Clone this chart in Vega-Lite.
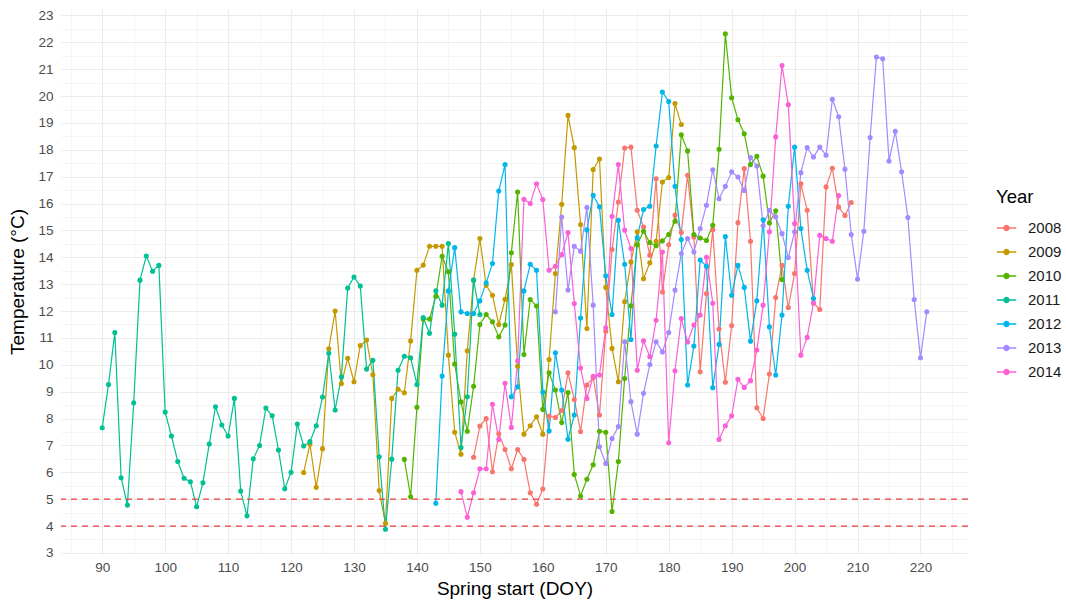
{
"$schema":"https://vega.github.io/schema/vega-lite/v6.json",
"width":907,"height":545,
"autosize":{"type":"none"},
"padding":{"left":61,"top":9,"right":98,"bottom":46},
"background":"white",
"config":{"view":{"stroke":null},"font":"Liberation Sans"},
"resolve":{"axis":{"x":"independent","y":"independent"}},
"datasets":{"temps":[
{"Year":"2008","d":149,"t":6.56},{"Year":"2008","d":150,"t":7.72},{"Year":"2008","d":151,"t":8.0},{"Year":"2008","d":152,"t":6.02},{"Year":"2008","d":153,"t":7.43},{"Year":"2008","d":154,"t":6.85},{"Year":"2008","d":155,"t":6.13},{"Year":"2008","d":156,"t":6.85},{"Year":"2008","d":157,"t":6.48},{"Year":"2008","d":158,"t":5.24},{"Year":"2008","d":159,"t":4.81},{"Year":"2008","d":160,"t":5.38},{"Year":"2008","d":161,"t":8.09},{"Year":"2008","d":162,"t":8.04},{"Year":"2008","d":163,"t":8.3},{"Year":"2008","d":164,"t":9.7},{"Year":"2008","d":165,"t":8.71},{"Year":"2008","d":166,"t":7.52},{"Year":"2008","d":167,"t":9.25},{"Year":"2008","d":168,"t":9.52},{"Year":"2008","d":169,"t":8.13},{"Year":"2008","d":170,"t":11.25},{"Year":"2008","d":171,"t":14.29},{"Year":"2008","d":172,"t":16.06},{"Year":"2008","d":173,"t":18.07},{"Year":"2008","d":174,"t":18.1},{"Year":"2008","d":175,"t":15.75},{"Year":"2008","d":176,"t":15.13},{"Year":"2008","d":177,"t":14.08},{"Year":"2008","d":178,"t":16.92},{"Year":"2008","d":179,"t":12.71},{"Year":"2008","d":180,"t":14.47},{"Year":"2008","d":181,"t":15.57},{"Year":"2008","d":182,"t":14.92},{"Year":"2008","d":183,"t":17.05},{"Year":"2008","d":184,"t":14.76},{"Year":"2008","d":185,"t":9.74},{"Year":"2008","d":186,"t":12.65},{"Year":"2008","d":187,"t":15.03},{"Year":"2008","d":188,"t":11.33},{"Year":"2008","d":189,"t":9.35},{"Year":"2008","d":190,"t":11.46},{"Year":"2008","d":191,"t":15.29},{"Year":"2008","d":192,"t":17.3},{"Year":"2008","d":193,"t":14.6},{"Year":"2008","d":194,"t":8.4},{"Year":"2008","d":195,"t":8.0},{"Year":"2008","d":196,"t":9.66},{"Year":"2008","d":197,"t":12.5},{"Year":"2008","d":198,"t":13.7},{"Year":"2008","d":199,"t":12.13},{"Year":"2008","d":200,"t":13.4},{"Year":"2008","d":201,"t":16.74},{"Year":"2008","d":202,"t":15.75},{"Year":"2008","d":203,"t":12.3},{"Year":"2008","d":204,"t":12.06},{"Year":"2008","d":205,"t":16.62},{"Year":"2008","d":206,"t":17.31},{"Year":"2008","d":207,"t":15.87},{"Year":"2008","d":208,"t":15.56},{"Year":"2008","d":209,"t":16.04},
{"Year":"2009","d":122,"t":5.99},{"Year":"2009","d":123,"t":7.05},{"Year":"2009","d":124,"t":5.44},{"Year":"2009","d":125,"t":6.88},{"Year":"2009","d":126,"t":10.6},{"Year":"2009","d":127,"t":12.0},{"Year":"2009","d":128,"t":9.3},{"Year":"2009","d":129,"t":10.24},{"Year":"2009","d":130,"t":9.37},{"Year":"2009","d":131,"t":10.72},{"Year":"2009","d":132,"t":10.92},{"Year":"2009","d":133,"t":9.63},{"Year":"2009","d":134,"t":5.32},{"Year":"2009","d":135,"t":4.1},{"Year":"2009","d":136,"t":8.75},{"Year":"2009","d":137,"t":9.09},{"Year":"2009","d":138,"t":8.96},{"Year":"2009","d":139,"t":10.89},{"Year":"2009","d":140,"t":13.52},{"Year":"2009","d":141,"t":13.71},{"Year":"2009","d":142,"t":14.41},{"Year":"2009","d":143,"t":14.41},{"Year":"2009","d":144,"t":14.41},{"Year":"2009","d":145,"t":10.36},{"Year":"2009","d":146,"t":7.49},{"Year":"2009","d":147,"t":6.67},{"Year":"2009","d":148,"t":10.52},{"Year":"2009","d":149,"t":13.15},{"Year":"2009","d":150,"t":14.7},{"Year":"2009","d":151,"t":12.96},{"Year":"2009","d":152,"t":12.59},{"Year":"2009","d":153,"t":11.5},{"Year":"2009","d":154,"t":12.44},{"Year":"2009","d":155,"t":13.73},{"Year":"2009","d":156,"t":9.95},{"Year":"2009","d":157,"t":7.42},{"Year":"2009","d":158,"t":7.73},{"Year":"2009","d":159,"t":8.07},{"Year":"2009","d":160,"t":7.42},{"Year":"2009","d":161,"t":10.2},{"Year":"2009","d":162,"t":13.4},{"Year":"2009","d":163,"t":15.97},{"Year":"2009","d":164,"t":19.28},{"Year":"2009","d":165,"t":18.08},{"Year":"2009","d":166,"t":15.22},{"Year":"2009","d":167,"t":11.35},{"Year":"2009","d":168,"t":17.27},{"Year":"2009","d":169,"t":17.66},{"Year":"2009","d":170,"t":12.88},{"Year":"2009","d":171,"t":10.61},{"Year":"2009","d":172,"t":9.37},{"Year":"2009","d":173,"t":12.35},{"Year":"2009","d":174,"t":13.83},{"Year":"2009","d":175,"t":14.95},{"Year":"2009","d":176,"t":13.2},{"Year":"2009","d":177,"t":13.8},{"Year":"2009","d":178,"t":14.6},{"Year":"2009","d":179,"t":16.8},{"Year":"2009","d":180,"t":16.97},{"Year":"2009","d":181,"t":19.72},{"Year":"2009","d":182,"t":18.94},
{"Year":"2010","d":138,"t":6.48},{"Year":"2010","d":139,"t":5.09},{"Year":"2010","d":140,"t":8.42},{"Year":"2010","d":141,"t":11.7},{"Year":"2010","d":142,"t":11.7},{"Year":"2010","d":143,"t":12.55},{"Year":"2010","d":144,"t":14.04},{"Year":"2010","d":145,"t":13.46},{"Year":"2010","d":146,"t":10.03},{"Year":"2010","d":147,"t":8.62},{"Year":"2010","d":148,"t":7.53},{"Year":"2010","d":149,"t":9.2},{"Year":"2010","d":150,"t":11.5},{"Year":"2010","d":151,"t":11.87},{"Year":"2010","d":152,"t":11.6},{"Year":"2010","d":153,"t":11.04},{"Year":"2010","d":154,"t":11.48},{"Year":"2010","d":155,"t":14.17},{"Year":"2010","d":156,"t":16.43},{"Year":"2010","d":157,"t":10.38},{"Year":"2010","d":158,"t":12.43},{"Year":"2010","d":159,"t":12.19},{"Year":"2010","d":160,"t":8.34},{"Year":"2010","d":161,"t":9.7},{"Year":"2010","d":162,"t":9.06},{"Year":"2010","d":163,"t":7.85},{"Year":"2010","d":164,"t":8.97},{"Year":"2010","d":165,"t":5.92},{"Year":"2010","d":166,"t":5.12},{"Year":"2010","d":167,"t":5.74},{"Year":"2010","d":168,"t":6.28},{"Year":"2010","d":169,"t":7.53},{"Year":"2010","d":170,"t":7.49},{"Year":"2010","d":171,"t":4.54},{"Year":"2010","d":172,"t":6.4},{"Year":"2010","d":173,"t":9.49},{"Year":"2010","d":174,"t":12.2},{"Year":"2010","d":175,"t":14.47},{"Year":"2010","d":176,"t":14.97},{"Year":"2010","d":177,"t":14.55},{"Year":"2010","d":178,"t":14.43},{"Year":"2010","d":179,"t":14.61},{"Year":"2010","d":180,"t":14.85},{"Year":"2010","d":181,"t":15.34},{"Year":"2010","d":182,"t":18.56},{"Year":"2010","d":183,"t":17.96},{"Year":"2010","d":184,"t":14.85},{"Year":"2010","d":185,"t":14.72},{"Year":"2010","d":186,"t":14.63},{"Year":"2010","d":187,"t":15.19},{"Year":"2010","d":188,"t":18.02},{"Year":"2010","d":189,"t":22.32},{"Year":"2010","d":190,"t":19.94},{"Year":"2010","d":191,"t":19.12},{"Year":"2010","d":192,"t":18.6},{"Year":"2010","d":193,"t":17.45},{"Year":"2010","d":194,"t":17.76},{"Year":"2010","d":195,"t":17.02},{"Year":"2010","d":196,"t":15.28},{"Year":"2010","d":197,"t":15.73},{"Year":"2010","d":198,"t":13.17},
{"Year":"2011","d":90,"t":7.66},{"Year":"2011","d":91,"t":9.27},{"Year":"2011","d":92,"t":11.2},{"Year":"2011","d":93,"t":5.8},{"Year":"2011","d":94,"t":4.78},{"Year":"2011","d":95,"t":8.59},{"Year":"2011","d":96,"t":13.15},{"Year":"2011","d":97,"t":14.05},{"Year":"2011","d":98,"t":13.48},{"Year":"2011","d":99,"t":13.7},{"Year":"2011","d":100,"t":8.24},{"Year":"2011","d":101,"t":7.35},{"Year":"2011","d":102,"t":6.4},{"Year":"2011","d":103,"t":5.78},{"Year":"2011","d":104,"t":5.65},{"Year":"2011","d":105,"t":4.72},{"Year":"2011","d":106,"t":5.61},{"Year":"2011","d":107,"t":7.05},{"Year":"2011","d":108,"t":8.44},{"Year":"2011","d":109,"t":7.76},{"Year":"2011","d":110,"t":7.35},{"Year":"2011","d":111,"t":8.75},{"Year":"2011","d":112,"t":5.3},{"Year":"2011","d":113,"t":4.38},{"Year":"2011","d":114,"t":6.5},{"Year":"2011","d":115,"t":7.0},{"Year":"2011","d":116,"t":8.39},{"Year":"2011","d":117,"t":8.1},{"Year":"2011","d":118,"t":6.83},{"Year":"2011","d":119,"t":5.39},{"Year":"2011","d":120,"t":6.0},{"Year":"2011","d":121,"t":7.8},{"Year":"2011","d":122,"t":6.98},{"Year":"2011","d":123,"t":7.14},{"Year":"2011","d":124,"t":7.73},{"Year":"2011","d":125,"t":8.8},{"Year":"2011","d":126,"t":10.43},{"Year":"2011","d":127,"t":8.32},{"Year":"2011","d":128,"t":9.55},{"Year":"2011","d":129,"t":12.86},{"Year":"2011","d":130,"t":13.27},{"Year":"2011","d":131,"t":12.93},{"Year":"2011","d":132,"t":9.84},{"Year":"2011","d":133,"t":10.17},{"Year":"2011","d":134,"t":6.58},{"Year":"2011","d":135,"t":3.88},{"Year":"2011","d":136,"t":6.49},{"Year":"2011","d":137,"t":9.8},{"Year":"2011","d":138,"t":10.32},{"Year":"2011","d":139,"t":10.26},{"Year":"2011","d":140,"t":9.27},{"Year":"2011","d":141,"t":11.76},{"Year":"2011","d":142,"t":11.17},{"Year":"2011","d":143,"t":12.75},{"Year":"2011","d":144,"t":12.22},{"Year":"2011","d":145,"t":14.51},{"Year":"2011","d":146,"t":11.14},{"Year":"2011","d":147,"t":6.92},{"Year":"2011","d":148,"t":8.81},{"Year":"2011","d":149,"t":13.15},{"Year":"2011","d":150,"t":11.87},
{"Year":"2012","d":143,"t":4.85},{"Year":"2012","d":144,"t":9.58},{"Year":"2012","d":145,"t":12.75},{"Year":"2012","d":146,"t":14.36},{"Year":"2012","d":147,"t":11.97},{"Year":"2012","d":148,"t":11.91},{"Year":"2012","d":149,"t":11.91},{"Year":"2012","d":150,"t":12.38},{"Year":"2012","d":151,"t":13.05},{"Year":"2012","d":152,"t":13.77},{"Year":"2012","d":153,"t":16.47},{"Year":"2012","d":154,"t":17.45},{"Year":"2012","d":155,"t":8.81},{"Year":"2012","d":156,"t":9.18},{"Year":"2012","d":157,"t":12.75},{"Year":"2012","d":158,"t":13.74},{"Year":"2012","d":159,"t":13.52},{"Year":"2012","d":160,"t":8.99},{"Year":"2012","d":161,"t":7.54},{"Year":"2012","d":162,"t":10.45},{"Year":"2012","d":163,"t":9.06},{"Year":"2012","d":164,"t":7.23},{"Year":"2012","d":165,"t":8.13},{"Year":"2012","d":166,"t":11.74},{"Year":"2012","d":167,"t":15.02},{"Year":"2012","d":168,"t":16.31},{"Year":"2012","d":169,"t":15.88},{"Year":"2012","d":170,"t":13.31},{"Year":"2012","d":171,"t":11.87},{"Year":"2012","d":172,"t":15.38},{"Year":"2012","d":173,"t":13.74},{"Year":"2012","d":174,"t":10.94},{"Year":"2012","d":175,"t":14.73},{"Year":"2012","d":176,"t":15.78},{"Year":"2012","d":177,"t":15.9},{"Year":"2012","d":178,"t":18.14},{"Year":"2012","d":179,"t":20.15},{"Year":"2012","d":180,"t":19.8},{"Year":"2012","d":181,"t":16.64},{"Year":"2012","d":182,"t":14.66},{"Year":"2012","d":183,"t":9.25},{"Year":"2012","d":184,"t":10.7},{"Year":"2012","d":185,"t":13.9},{"Year":"2012","d":186,"t":13.67},{"Year":"2012","d":187,"t":9.15},{"Year":"2012","d":188,"t":10.76},{"Year":"2012","d":189,"t":14.77},{"Year":"2012","d":190,"t":12.59},{"Year":"2012","d":191,"t":13.7},{"Year":"2012","d":192,"t":12.88},{"Year":"2012","d":193,"t":10.88},{"Year":"2012","d":194,"t":12.38},{"Year":"2012","d":195,"t":15.4},{"Year":"2012","d":196,"t":11.41},{"Year":"2012","d":197,"t":9.62},{"Year":"2012","d":198,"t":11.85},{"Year":"2012","d":199,"t":15.9},{"Year":"2012","d":200,"t":18.1},{"Year":"2012","d":201,"t":15.07},{"Year":"2012","d":202,"t":13.52},{"Year":"2012","d":203,"t":12.47},
{"Year":"2013","d":162,"t":11.97},{"Year":"2013","d":163,"t":15.5},{"Year":"2013","d":164,"t":12.78},{"Year":"2013","d":165,"t":14.41},{"Year":"2013","d":166,"t":14.23},{"Year":"2013","d":167,"t":15.85},{"Year":"2013","d":168,"t":12.22},{"Year":"2013","d":169,"t":6.95},{"Year":"2013","d":170,"t":6.33},{"Year":"2013","d":171,"t":7.26},{"Year":"2013","d":172,"t":7.7},{"Year":"2013","d":173,"t":10.86},{"Year":"2013","d":174,"t":8.63},{"Year":"2013","d":175,"t":7.42},{"Year":"2013","d":176,"t":8.94},{"Year":"2013","d":177,"t":10.01},{"Year":"2013","d":178,"t":10.86},{"Year":"2013","d":179,"t":10.48},{"Year":"2013","d":180,"t":11.2},{"Year":"2013","d":181,"t":12.78},{"Year":"2013","d":182,"t":14.14},{"Year":"2013","d":183,"t":14.7},{"Year":"2013","d":184,"t":14.2},{"Year":"2013","d":185,"t":15.07},{"Year":"2013","d":186,"t":15.94},{"Year":"2013","d":187,"t":17.26},{"Year":"2013","d":188,"t":16.18},{"Year":"2013","d":189,"t":16.64},{"Year":"2013","d":190,"t":17.18},{"Year":"2013","d":191,"t":16.99},{"Year":"2013","d":192,"t":16.49},{"Year":"2013","d":193,"t":17.71},{"Year":"2013","d":194,"t":17.4},{"Year":"2013","d":195,"t":15.17},{"Year":"2013","d":196,"t":15.75},{"Year":"2013","d":197,"t":15.5},{"Year":"2013","d":198,"t":14.88},{"Year":"2013","d":199,"t":13.99},{"Year":"2013","d":200,"t":14.95},{"Year":"2013","d":201,"t":17.15},{"Year":"2013","d":202,"t":18.08},{"Year":"2013","d":203,"t":17.73},{"Year":"2013","d":204,"t":18.1},{"Year":"2013","d":205,"t":17.8},{"Year":"2013","d":206,"t":19.88},{"Year":"2013","d":207,"t":19.23},{"Year":"2013","d":208,"t":17.28},{"Year":"2013","d":209,"t":14.85},{"Year":"2013","d":210,"t":13.19},{"Year":"2013","d":211,"t":14.97},{"Year":"2013","d":212,"t":18.46},{"Year":"2013","d":213,"t":21.45},{"Year":"2013","d":214,"t":21.39},{"Year":"2013","d":215,"t":17.58},{"Year":"2013","d":216,"t":18.69},{"Year":"2013","d":217,"t":17.18},{"Year":"2013","d":218,"t":15.48},{"Year":"2013","d":219,"t":12.43},{"Year":"2013","d":220,"t":10.26},{"Year":"2013","d":221,"t":11.97},
{"Year":"2014","d":147,"t":5.28},{"Year":"2014","d":148,"t":4.33},{"Year":"2014","d":149,"t":5.24},{"Year":"2014","d":150,"t":6.13},{"Year":"2014","d":151,"t":6.13},{"Year":"2014","d":152,"t":8.53},{"Year":"2014","d":153,"t":7.22},{"Year":"2014","d":154,"t":9.31},{"Year":"2014","d":155,"t":7.67},{"Year":"2014","d":156,"t":10.15},{"Year":"2014","d":157,"t":16.16},{"Year":"2014","d":158,"t":16.0},{"Year":"2014","d":159,"t":16.74},{"Year":"2014","d":160,"t":16.15},{"Year":"2014","d":161,"t":13.52},{"Year":"2014","d":162,"t":13.67},{"Year":"2014","d":163,"t":14.1},{"Year":"2014","d":164,"t":14.92},{"Year":"2014","d":165,"t":12.28},{"Year":"2014","d":166,"t":9.88},{"Year":"2014","d":167,"t":8.75},{"Year":"2014","d":168,"t":9.57},{"Year":"2014","d":169,"t":9.62},{"Year":"2014","d":170,"t":11.38},{"Year":"2014","d":171,"t":15.53},{"Year":"2014","d":172,"t":17.45},{"Year":"2014","d":173,"t":15.01},{"Year":"2014","d":174,"t":14.33},{"Year":"2014","d":175,"t":9.8},{"Year":"2014","d":176,"t":10.89},{"Year":"2014","d":177,"t":10.3},{"Year":"2014","d":178,"t":11.66},{"Year":"2014","d":179,"t":14.2},{"Year":"2014","d":180,"t":7.1},{"Year":"2014","d":181,"t":9.78},{"Year":"2014","d":182,"t":11.72},{"Year":"2014","d":183,"t":10.85},{"Year":"2014","d":184,"t":11.48},{"Year":"2014","d":185,"t":11.85},{"Year":"2014","d":186,"t":14.0},{"Year":"2014","d":187,"t":12.29},{"Year":"2014","d":188,"t":7.22},{"Year":"2014","d":189,"t":7.73},{"Year":"2014","d":190,"t":8.1},{"Year":"2014","d":191,"t":9.46},{"Year":"2014","d":192,"t":9.16},{"Year":"2014","d":193,"t":9.41},{"Year":"2014","d":194,"t":10.55},{"Year":"2014","d":195,"t":12.22},{"Year":"2014","d":196,"t":14.95},{"Year":"2014","d":197,"t":18.48},{"Year":"2014","d":198,"t":21.14},{"Year":"2014","d":199,"t":19.68},{"Year":"2014","d":200,"t":15.26},{"Year":"2014","d":201,"t":10.36},{"Year":"2014","d":202,"t":11.02},{"Year":"2014","d":203,"t":12.3},{"Year":"2014","d":204,"t":14.82},{"Year":"2014","d":205,"t":14.7},{"Year":"2014","d":206,"t":14.6},{"Year":"2014","d":207,"t":16.3}
],
"thresholds":[{"h":4},{"h":5}]},
"layer":[
{"data":{"name":"temps"},
 "mark":{"type":"line","strokeWidth":1.2},
 "encoding":{
  "x":{"field":"d","type":"quantitative","scale":{"domain":[83.45,227.55],"nice":false,"zero":false},
   "axis":{"title":"Spring start (DOY)","values":[90,100,110,120,130,140,150,160,170,180,190,200,210,220],
    "labelOverlap":false,"labelFlush":false,
    "grid":true,"gridColor":"#EBEBEB","gridWidth":1.1,
    "domain":false,"ticks":false,"labelColor":"#4D4D4D","labelFontSize":13.5,"labelPadding":6,
    "titleFontSize":19,"titleFontWeight":"normal","titleColor":"#000000","titlePadding":6}},
  "y":{"field":"t","type":"quantitative","scale":{"domain":[2.96,23.24],"nice":false,"zero":false},
   "axis":{"title":"Temperature (°C)","values":[3,4,5,6,7,8,9,10,11,12,13,14,15,16,17,18,19,20,21,22,23],
    "labelOverlap":false,"labelFlush":false,
    "grid":true,"gridColor":"#EBEBEB","gridWidth":1.1,
    "domain":false,"ticks":false,"labelColor":"#4D4D4D","labelFontSize":13.5,"labelPadding":8,
    "titleFontSize":19,"titleFontWeight":"normal","titleColor":"#000000","titlePadding":10}},
  "color":{"field":"Year","type":"nominal",
   "scale":{"domain":["2008","2009","2010","2011","2012","2013","2014"],"range":["#F8766D","#C49A00","#53B400","#00C094","#00B6EB","#A58AFF","#FB61D7"]},
   "legend":{"title":"Year","orient":"none","legendX":935,"legendY":179,"padding":0,
    "titleFontSize":18.5,"titleFontWeight":"normal","titleColor":"#000000","titlePadding":11,
    "labelFontSize":15,"labelColor":"#1A1A1A","labelOffset":11,"rowPadding":5,
    "symbolType":"M-1,0L1,0M0.26,0A0.26,0.26,0,1,1,-0.26,0A0.26,0.26,0,1,1,0.26,0","symbolSize":380,"symbolStrokeWidth":1.3}}
 }},
{"data":{"name":"temps"},
 "mark":{"type":"circle","size":26,"opacity":1},
 "encoding":{
  "x":{"field":"d","type":"quantitative",
   "axis":{"title":null,"orient":"bottom","values":[85,95,105,115,125,135,145,155,165,175,185,195,205,215,225],"labels":false,"ticks":false,"domain":false,"grid":true,"gridColor":"#EEEEEE","gridWidth":0.6}},
  "y":{"field":"t","type":"quantitative",
   "axis":{"title":null,"orient":"left","values":[3.5,4.5,5.5,6.5,7.5,8.5,9.5,10.5,11.5,12.5,13.5,14.5,15.5,16.5,17.5,18.5,19.5,20.5,21.5,22.5],"labels":false,"ticks":false,"domain":false,"grid":true,"gridColor":"#EEEEEE","gridWidth":0.6}},
  "color":{"field":"Year","type":"nominal"}
 }},
{"data":{"name":"thresholds"},
 "mark":{"type":"rule","color":"#F03B3B","strokeDash":[6,5],"strokeWidth":1.2},
 "encoding":{"y":{"field":"h","type":"quantitative","axis":null}}}
]
}
